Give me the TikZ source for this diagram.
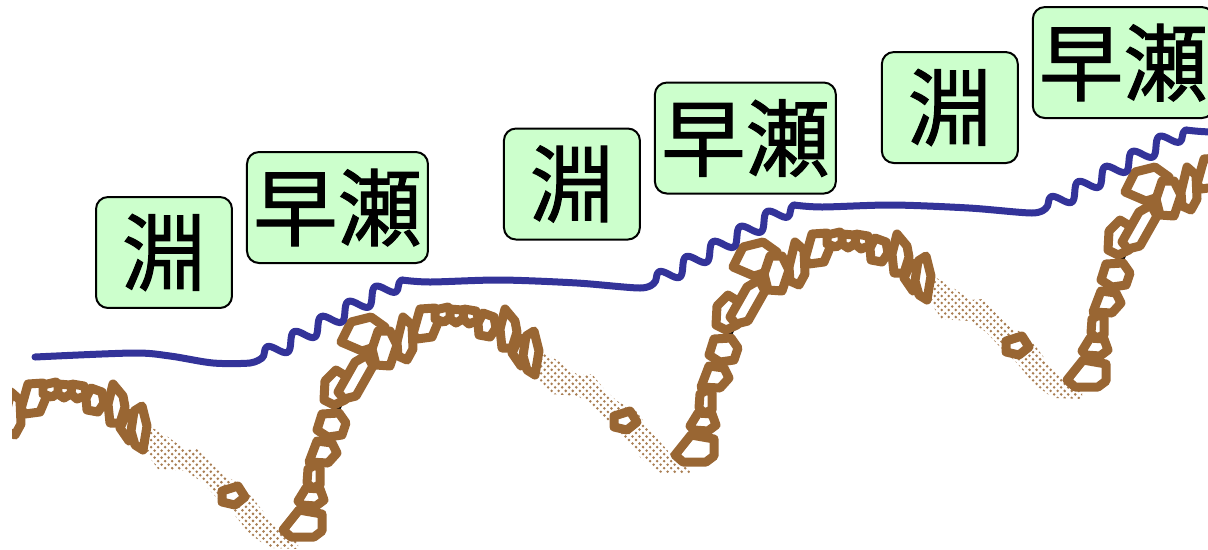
\documentclass[tikz,border=0pt]{standalone}
\usepackage{fontspec}
\newfontfamily\jpfont[FakeBold=1.2]{Noto Sans CJK JP}
\usetikzlibrary{positioning,decorations.pathmorphing,patterns}
\definecolor{rockbrown}{HTML}{996633}
\definecolor{waterblue}{HTML}{333399}
\definecolor{tagfill}{HTML}{CCFFCC}
% staggered dots for the sandy stretches
\pgfdeclarepatternformonly{sanddots}{\pgfqpoint{-1pt}{-1pt}}{\pgfqpoint{3pt}{3pt}}{\pgfqpoint{4pt}{4pt}}{%
  \pgfpathcircle{\pgfqpoint{0pt}{0pt}}{0.8pt}%
  \pgfpathcircle{\pgfqpoint{2pt}{2pt}}{0.8pt}%
  \pgfusepath{fill}}
\tikzset{
    rock/.style={
        draw=rockbrown, line width=0.18cm, fill=white, line join=round
    },
    sand/.style={
        preaction={fill=white}, pattern=sanddots, pattern color=rockbrown!85
    },
    bed/.style={
        draw=black, line width=0.1cm, line cap=round
    },
    water/.style={
        draw=waterblue, line width=0.14cm, line cap=round, line join=round
    },
    tag/.style={
        draw, line width=0.04cm, rounded corners=0.24cm, fill=tagfill,
        inner sep=0pt, minimum height=2.22cm,
        font=\jpfont\fontsize{48}{52}\selectfont
    },
    pooltag/.style={tag, minimum width=2.72cm},
    rifftag/.style={tag, minimum width=3.62cm}
}

\begin{document}
\begin{tikzpicture}[x=0.02cm, y=-0.02cm]

    \useasboundingbox (0,0) rectangle (1208,549);
    \clip (0,0) rectangle (1208,549);
    \fill[white] (0,0) rectangle (1208,549);

    % RIVERBED LINE
    \foreach \k in {-1,...,2} {
        \begin{scope}[shift={(\k*392,\k*-75)}]
            \ifnum\k<0 \clip (404,0) rectangle (900,700); \fi
            \draw[bed] plot[smooth, tension=0.6] coordinates {(262,538) (283,545) (303,525) (316,475) (330,430) (345,395) (372,360) (420,325) (487,318) (530,345) (560,376) (600,398) (640,436) (662,460) (675,468) (695,450)};
        \end{scope}
    }

    % SAND AND STONES
    \foreach \k in {-1,...,2} {
        \begin{scope}[shift={(\k*392,\k*-75)}]
            \ifnum\k<0 \clip (404,0) rectangle (900,700); \fi
            % sandy slope into the pool
            \path[sand] (536,348) -- (560,362) -- (578,375) -- (592,374) -- (605,390) -- (617,401) -- (636,411) -- (653,434) -- (669,452) -- (690,455)
                -- (690,474) -- (661,473) -- (641,458) -- (625,438) -- (608,422) -- (594,407) -- (578,396) -- (550,394) -- (539,379) -- cycle;
            \draw[rock] (614,416) -- (630,411) -- (637,422) -- (627,430) -- (614,427) -- cycle;

            % stones up the riffle
            \draw[rock] (283,530) -- (299,510) -- (322,514) -- (322,531) -- (314,537) -- (291,537) -- cycle;
            \draw[rock] (298,501) -- (306,488) -- (320,489) -- (324,500) -- (316,506) -- (302,505) -- cycle;
            \draw[rock] (308,469) -- (315,465) -- (320,468) -- (320,485) -- (312,488) -- (307,483) -- cycle;
            \draw[rock] (309,462) -- (317,441) -- (332,443) -- (337,453) -- (328,463) -- cycle;
            \draw[rock] (317,430) -- (322,414) -- (339,413) -- (346,423) -- (342,435) -- (328,437) -- cycle;
            \draw[rock] (324,400) -- (325,381) -- (336,370) -- (346,376) -- (345,400) -- (334,405) -- cycle;
            \draw[rock] (338,392) -- (355,362) -- (367,355) -- (373,366) -- (356,396) -- (344,399) -- cycle;
            \draw[rock] (341,342) -- (351,322) -- (371,317) -- (385,327) -- (381,345) -- (362,351) -- cycle;
            \draw[rock] (372,349) -- (378,331) -- (390,331) -- (397,345) -- (390,366) -- (376,365) -- cycle;

            % stones along the crest
            \draw[rock] (397,342) -- (403,317) -- (412,325) -- (413,349) -- (407,360) -- (398,356) -- cycle;
            \draw[rock] (413,334) -- (420,309) -- (435,308) -- (440,318) -- (432,337) -- (417,339) -- cycle;
            \draw[rock] (435,310) -- (448,307) -- (453,316) -- (444,322) -- (435,319) -- cycle;
            \draw[rock] (450,309) -- (462,310) -- (466,317) -- (456,323) -- (450,319) -- cycle;
            \draw[rock] (464,309) -- (476,311) -- (479,320) -- (469,324) -- (463,319) -- cycle;
            \draw[rock] (478,323) -- (483,313) -- (494,317) -- (496,328) -- (490,337) -- (479,335) -- cycle;
            \draw[rock] (500,329) -- (505,309) -- (515,321) -- (517,332) -- (512,348) -- (502,348) -- cycle;
            \draw[rock] (512,353) -- (519,338) -- (530,341) -- (532,359) -- (521,366) -- cycle;
            \draw[rock] (526,336) -- (534,331) -- (539,351) -- (535,375) -- (527,370) -- (523,356) -- cycle;
        \end{scope}
    }

    % WATER SURFACE
    \draw[water] plot[smooth] coordinates {(35,357) (133,353) (170,356) (213,363) (250,363) (262,358)};
    \foreach \k in {0,1,2} {
        \begin{scope}[shift={(\k*392,\k*-75)}]
            \draw[water, decorate, decoration={snake, amplitude=0.15cm, segment length=0.62cm}] (262,358) -- (402,280);
            \draw[water] plot[smooth] coordinates {(402,280) (430,282) (500,280) (577,283) (640,288) (654,283)};
        \end{scope}
    }

    % LABELS
    \node[pooltag] (fuchi1) at (164,252.5) {淵};
    \node[rifftag, right=0.26cm of fuchi1, yshift=0.9cm] (hayase1) {早瀬};
    \node[pooltag, right=1.48cm of hayase1, yshift=0.47cm] (fuchi2) {淵};
    \node[rifftag, right=0.26cm of fuchi2, yshift=0.92cm] (hayase2) {早瀬};
    \node[pooltag, right=0.88cm of hayase2, yshift=0.61cm] (fuchi3) {淵};
    \node[rifftag, right=0.26cm of fuchi3, yshift=0.9cm] (hayase3) {早瀬};

\end{tikzpicture}
\end{document}
